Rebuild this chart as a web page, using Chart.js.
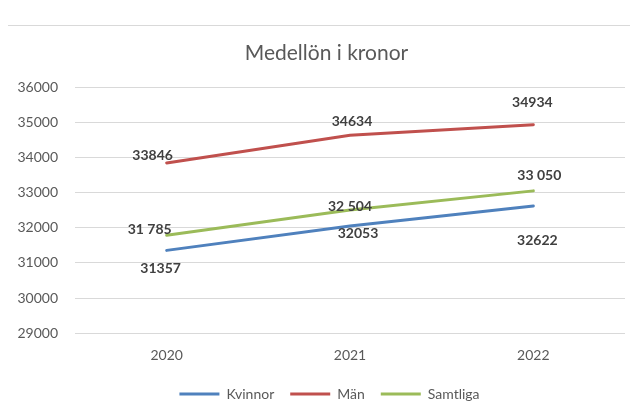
<!DOCTYPE html>
<html>
<head>
<meta charset="utf-8">
<script src="https://cdn.jsdelivr.net/npm/chart.js@4"></script>
<style>
  html, body { margin: 0; padding: 0; background: #fff; }
  #wrap { width: 630px; height: 401px; position: relative; }
</style>
</head>
<body>
<div id="wrap"><canvas id="chart" width="630" height="401"></canvas></div>
<script>
const years = ["2020", "2021", "2022"];
const kvinnor = [31357, 32053, 32622];
const man = [33846, 34634, 34934];
const samtliga = [31785, 32504, 33050];
const seriesNames = ["Kvinnor", "Män", "Samtliga"];
const yTicks = [29000, 30000, 31000, 32000, 33000, 34000, 35000, 36000];

const FONT = 'Lato, "Open Sans", sans-serif';

// label offsets in px relative to the point (dx, dy)
const labelOffsets = [
    [[-6, 18], [8, 8], [4, 35]],
    [[-14, -7], [2, -14], [-1, -22]],
    [[-17, -6], [0, -4], [6, -15]]
];

function spaced(v) {
    return String(v).replace(/\B(?=(\d{3})+(?!\d))/g, " ");
}

const labelPlugin = {
    id: "pointLabels",
    afterLayout(chart) {
        // title and legend sit a bit right of centre in the original
        chart.titleBlock.left += 14;
        chart.titleBlock.right += 14;
        chart.legend.left += 17;
        chart.legend.right += 17;
    },
    beforeDraw(chart) {
        const ctx = chart.ctx;
        ctx.save();
        ctx.strokeStyle = "#d9d9d9";
        ctx.lineWidth = 1;
        ctx.beginPath();
        ctx.moveTo(8, 25.5);
        ctx.lineTo(630, 25.5);
        ctx.stroke();
        ctx.restore();
    },
    afterDatasetsDraw(chart) {
        const ctx = chart.ctx;
        ctx.save();
        ctx.font = "bold 14px " + FONT;
        ctx.fillStyle = "#404040";
        ctx.textAlign = "center";
        ctx.textBaseline = "middle";
        chart.data.datasets.forEach((ds, i) => {
            chart.getDatasetMeta(i).data.forEach((pt, j) => {
                const off = labelOffsets[i][j];
                const txt = i === 2 ? spaced(ds.data[j]) : String(ds.data[j]);
                ctx.fillText(txt, pt.x + off[0], pt.y + off[1]);
            });
        });
        ctx.restore();
    }
};

new Chart(document.getElementById("chart").getContext("2d"), {
    type: "line",
    data: {
        labels: years,
        datasets: [
            { label: seriesNames[0], data: kvinnor, borderColor: "#4F81BD", backgroundColor: "#4F81BD" },
            { label: seriesNames[1], data: man, borderColor: "#C0504D", backgroundColor: "#C0504D" },
            { label: seriesNames[2], data: samtliga, borderColor: "#9BBB59", backgroundColor: "#9BBB59" }
        ]
    },
    options: {
        responsive: false,
        animation: false,
        devicePixelRatio: 1,
        elements: {
            line: { borderWidth: 3, tension: 0, borderCapStyle: "round" },
            point: { radius: 0, hoverRadius: 0 }
        },
        layout: { padding: { left: 0, right: 5, top: 0, bottom: -10 } },
        plugins: {
            title: {
                display: true,
                text: "Medellön i kronor",
                color: "#595959",
                font: { family: FONT, size: 21, weight: "normal" },
                padding: { top: 41, bottom: 21 }
            },
            legend: {
                position: "bottom",
                labels: {
                    color: "#595959",
                    font: { family: FONT, size: 14 },
                    boxWidth: 40,
                    boxHeight: 3,
                    padding: 16,
                    generateLabels(chart) {
                        return Chart.defaults.plugins.legend.labels.generateLabels(chart).map(l => {
                            l.lineWidth = 0;
                            return l;
                        });
                    }
                }
            },
            tooltip: { enabled: false }
        },
        scales: {
            x: {
                offset: true,
                grid: { display: false },
                border: { display: false },
                afterFit(scale) {
                    scale.height += 1;
                },
                ticks: { color: "#595959", font: { family: FONT, size: 14 }, padding: 6 }
            },
            y: {
                min: yTicks[0],
                max: yTicks[yTicks.length - 1],
                afterBuildTicks(scale) {
                    scale.ticks = yTicks.map(v => ({ value: v }));
                },
                afterFit(scale) {
                    scale.width = 75;
                },
                grid: { color: "#d9d9d9", drawTicks: false },
                border: { display: false },
                ticks: {
                    color: "#595959",
                    font: { family: FONT, size: 14 },
                    padding: 17,
                    callback: v => String(v)
                }
            }
        }
    },
    plugins: [labelPlugin]
});
</script>
</body>
</html>
